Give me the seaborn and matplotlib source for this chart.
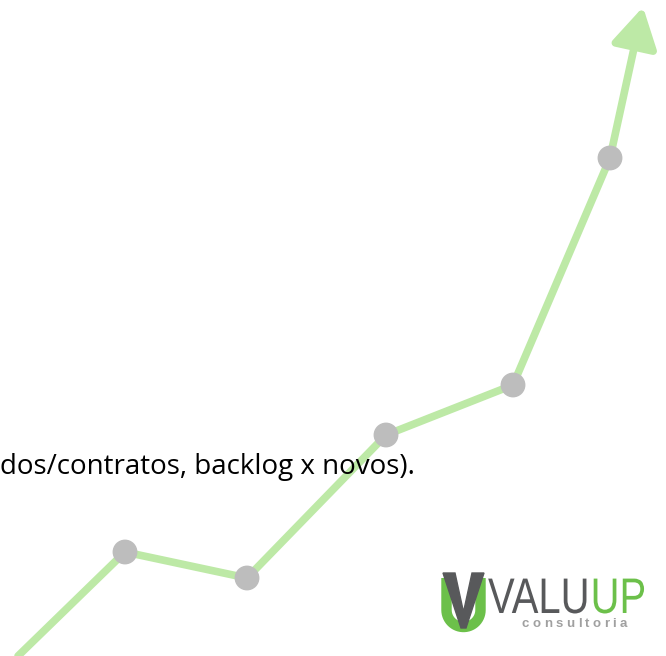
import numpy as np
import pandas as pd
import matplotlib
matplotlib.use("Agg")
import matplotlib.pyplot as plt
from matplotlib.patches import Polygon
from matplotlib.patheffects import AbstractPathEffect
from matplotlib.transforms import Affine2D
import seaborn as sns

sns.set_theme(style="white")
plt.rcParams['font.family'] = ['Open Sans', 'DejaVu Sans']

# growth path (pixel-like units, y grows upward)
step_x = [18, 125, 247, 386, 513, 610]
step_y = [0, 104, 78, 221, 271, 498]
arrow_tip = (643, 649)
caption = "dos/contratos, backlog x novos)."

GREEN = "#bde9a6"
DOT = "#bdbdbd"
W, H = 666, 656


class Stretch(AbstractPathEffect):
    # scale glyphs horizontally from the text start (no condensed font installed)
    def __init__(self, sx):
        super().__init__()
        self.sx = sx

    def draw_path(self, renderer, gc, tpath, affine, rgbFace=None):
        renderer.draw_path(gc, tpath, Affine2D().scale(self.sx, 1) + affine, rgbFace)


df = pd.DataFrame({"x": step_x, "y": step_y})

fig = plt.figure(figsize=(6.66, 6.56), dpi=100)
ax = fig.add_axes([0, 0, 1, 1])
ax.set_xlim(0, W)
ax.set_ylim(0, H)
ax.axis("off")

sns.lineplot(data=df, x="x", y="y", color=GREEN, lw=5.5, ax=ax, zorder=2,
             solid_capstyle="round", sort=False)
ax.annotate("", xy=arrow_tip, xytext=(step_x[-1], step_y[-1]),
            arrowprops=dict(arrowstyle="-|>,head_length=1.0,head_width=0.58",
                            mutation_scale=24, lw=5.5, color=GREEN,
                            shrinkA=0, shrinkB=0, joinstyle="round"),
            zorder=2)
sns.scatterplot(data=df.iloc[1:], x="x", y="y", color=DOT, s=320,
                edgecolor="none", ax=ax, zorder=3)

ax.text(0, H - 474, caption, fontsize=20, color="black", ha="left",
        va="baseline", zorder=4)

# logo
def px(x, y):
    return (x, H - y)

t = np.linspace(np.pi, 2 * np.pi, 30)
ux = 463.5 + 17 * np.cos(t)
uy = 610 - 17 * np.sin(t)
ax.plot(np.r_[446.5, ux, 480.5], H - np.r_[578, uy, 578], color="#6cc04a",
        lw=7.5, solid_capstyle="butt", zorder=5)
v = [px(443, 573), px(455, 573), px(463.5, 612), px(472, 573), px(484, 573),
     px(466, 628), px(461, 628)]
ax.add_patch(Polygon(v, closed=True, color="#58595b", zorder=6))

sx = 0.8
tv = ax.text(488, H - 613, "VALU", fontsize=36, color="#58595b",
             family="Liberation Sans", va="baseline", ha="left",
             path_effects=[Stretch(sx)])
fig.canvas.draw()
bb = tv.get_window_extent().transformed(ax.transData.inverted())
ax.text(488 + sx * (bb.x1 - bb.x0) + 1, H - 613, "UP", fontsize=36,
        color="#6cc04a", family="Liberation Sans", va="baseline", ha="left",
        path_effects=[Stretch(sx)])

# "consultoria" with wide letter spacing, one text per letter
letters = [ax.text(0, H - 627, ch, fontsize=9.5, color="#a0a0a0",
                   family="Liberation Sans", fontweight="bold",
                   ha="left", va="baseline") for ch in "consultoria"]
fig.canvas.draw()
inv = ax.transData.inverted()
widths = []
for lt in letters:
    e = lt.get_window_extent().transformed(inv)
    widths.append(e.x1 - e.x0)
gap = (105 - sum(widths)) / (len(letters) - 1)
x = 522
for lt, w in zip(letters, widths):
    lt.set_x(x)
    x += w + gap

fig.savefig("out.png", dpi=100)
